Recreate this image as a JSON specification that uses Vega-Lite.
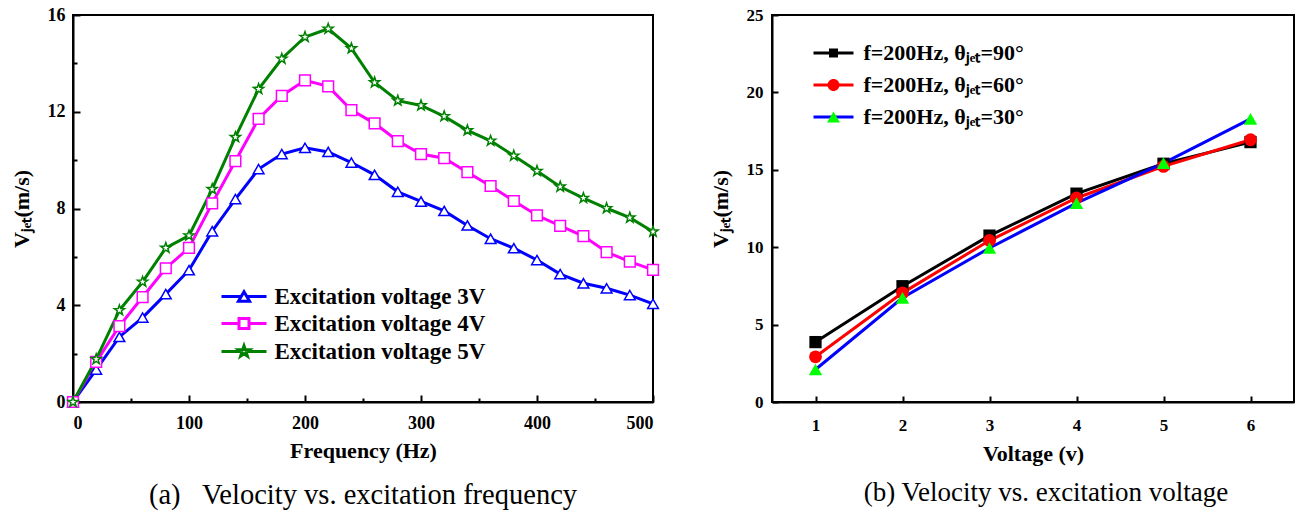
{
  "$schema": "https://vega.github.io/schema/vega-lite/v6.json",
  "autosize": {"type": "pad"},
  "padding": {"left": 9, "top": 5, "right": 0, "bottom": 0},
  "background": "white",
  "bounds": "flush",
  "spacing": 119,
  "resolve": {
    "scale": {"stroke": "independent", "fill": "independent", "shape": "independent", "size": "independent", "color": "independent"},
    "legend": {"stroke": "independent", "fill": "independent", "shape": "independent", "size": "independent", "color": "independent"}
  },
  "datasets": {
    "freq": [
      {"f": 0, "v": 0, "s": "Excitation voltage 3V"},
      {"f": 20, "v": 1.34, "s": "Excitation voltage 3V"},
      {"f": 40, "v": 2.69, "s": "Excitation voltage 3V"},
      {"f": 60, "v": 3.49, "s": "Excitation voltage 3V"},
      {"f": 80, "v": 4.46, "s": "Excitation voltage 3V"},
      {"f": 100, "v": 5.45, "s": "Excitation voltage 3V"},
      {"f": 120, "v": 7.06, "s": "Excitation voltage 3V"},
      {"f": 140, "v": 8.39, "s": "Excitation voltage 3V"},
      {"f": 160, "v": 9.63, "s": "Excitation voltage 3V"},
      {"f": 180, "v": 10.25, "s": "Excitation voltage 3V"},
      {"f": 200, "v": 10.51, "s": "Excitation voltage 3V"},
      {"f": 220, "v": 10.34, "s": "Excitation voltage 3V"},
      {"f": 240, "v": 9.9, "s": "Excitation voltage 3V"},
      {"f": 260, "v": 9.39, "s": "Excitation voltage 3V"},
      {"f": 280, "v": 8.69, "s": "Excitation voltage 3V"},
      {"f": 300, "v": 8.29, "s": "Excitation voltage 3V"},
      {"f": 320, "v": 7.9, "s": "Excitation voltage 3V"},
      {"f": 340, "v": 7.3, "s": "Excitation voltage 3V"},
      {"f": 360, "v": 6.75, "s": "Excitation voltage 3V"},
      {"f": 380, "v": 6.36, "s": "Excitation voltage 3V"},
      {"f": 400, "v": 5.87, "s": "Excitation voltage 3V"},
      {"f": 420, "v": 5.29, "s": "Excitation voltage 3V"},
      {"f": 440, "v": 4.91, "s": "Excitation voltage 3V"},
      {"f": 460, "v": 4.7, "s": "Excitation voltage 3V"},
      {"f": 480, "v": 4.42, "s": "Excitation voltage 3V"},
      {"f": 500, "v": 4.06, "s": "Excitation voltage 3V"},
      {"f": 0, "v": 0, "s": "Excitation voltage 4V"},
      {"f": 20, "v": 1.66, "s": "Excitation voltage 4V"},
      {"f": 40, "v": 3.14, "s": "Excitation voltage 4V"},
      {"f": 60, "v": 4.34, "s": "Excitation voltage 4V"},
      {"f": 80, "v": 5.53, "s": "Excitation voltage 4V"},
      {"f": 100, "v": 6.37, "s": "Excitation voltage 4V"},
      {"f": 120, "v": 8.21, "s": "Excitation voltage 4V"},
      {"f": 140, "v": 9.96, "s": "Excitation voltage 4V"},
      {"f": 160, "v": 11.71, "s": "Excitation voltage 4V"},
      {"f": 180, "v": 12.66, "s": "Excitation voltage 4V"},
      {"f": 200, "v": 13.3, "s": "Excitation voltage 4V"},
      {"f": 220, "v": 13.05, "s": "Excitation voltage 4V"},
      {"f": 240, "v": 12.07, "s": "Excitation voltage 4V"},
      {"f": 260, "v": 11.52, "s": "Excitation voltage 4V"},
      {"f": 280, "v": 10.79, "s": "Excitation voltage 4V"},
      {"f": 300, "v": 10.25, "s": "Excitation voltage 4V"},
      {"f": 320, "v": 10.08, "s": "Excitation voltage 4V"},
      {"f": 340, "v": 9.5, "s": "Excitation voltage 4V"},
      {"f": 360, "v": 8.93, "s": "Excitation voltage 4V"},
      {"f": 380, "v": 8.31, "s": "Excitation voltage 4V"},
      {"f": 400, "v": 7.72, "s": "Excitation voltage 4V"},
      {"f": 420, "v": 7.28, "s": "Excitation voltage 4V"},
      {"f": 440, "v": 6.86, "s": "Excitation voltage 4V"},
      {"f": 460, "v": 6.2, "s": "Excitation voltage 4V"},
      {"f": 480, "v": 5.8, "s": "Excitation voltage 4V"},
      {"f": 500, "v": 5.46, "s": "Excitation voltage 4V"},
      {"f": 0, "v": 0, "s": "Excitation voltage 5V"},
      {"f": 20, "v": 1.77, "s": "Excitation voltage 5V"},
      {"f": 40, "v": 3.79, "s": "Excitation voltage 5V"},
      {"f": 60, "v": 4.97, "s": "Excitation voltage 5V"},
      {"f": 80, "v": 6.37, "s": "Excitation voltage 5V"},
      {"f": 100, "v": 6.88, "s": "Excitation voltage 5V"},
      {"f": 120, "v": 8.8, "s": "Excitation voltage 5V"},
      {"f": 140, "v": 10.95, "s": "Excitation voltage 5V"},
      {"f": 160, "v": 12.94, "s": "Excitation voltage 5V"},
      {"f": 180, "v": 14.19, "s": "Excitation voltage 5V"},
      {"f": 200, "v": 15.09, "s": "Excitation voltage 5V"},
      {"f": 220, "v": 15.43, "s": "Excitation voltage 5V"},
      {"f": 240, "v": 14.62, "s": "Excitation voltage 5V"},
      {"f": 260, "v": 13.21, "s": "Excitation voltage 5V"},
      {"f": 280, "v": 12.46, "s": "Excitation voltage 5V"},
      {"f": 300, "v": 12.26, "s": "Excitation voltage 5V"},
      {"f": 320, "v": 11.81, "s": "Excitation voltage 5V"},
      {"f": 340, "v": 11.23, "s": "Excitation voltage 5V"},
      {"f": 360, "v": 10.8, "s": "Excitation voltage 5V"},
      {"f": 380, "v": 10.18, "s": "Excitation voltage 5V"},
      {"f": 400, "v": 9.55, "s": "Excitation voltage 5V"},
      {"f": 420, "v": 8.9, "s": "Excitation voltage 5V"},
      {"f": 440, "v": 8.43, "s": "Excitation voltage 5V"},
      {"f": 460, "v": 8.01, "s": "Excitation voltage 5V"},
      {"f": 480, "v": 7.62, "s": "Excitation voltage 5V"},
      {"f": 500, "v": 7.04, "s": "Excitation voltage 5V"}
    ],
    "volt": [
      {"u": 1, "v": 3.87, "s": "f=200Hz, θⱼₑₜ=90°", "k": "f=200Hz, θⱼₑₜ=90°"},
      {"u": 2, "v": 7.48, "s": "f=200Hz, θⱼₑₜ=90°", "k": "f=200Hz, θⱼₑₜ=90°"},
      {"u": 3, "v": 10.75, "s": "f=200Hz, θⱼₑₜ=90°", "k": "f=200Hz, θⱼₑₜ=90°"},
      {"u": 4, "v": 13.46, "s": "f=200Hz, θⱼₑₜ=90°", "k": "f=200Hz, θⱼₑₜ=90°"},
      {"u": 5, "v": 15.39, "s": "f=200Hz, θⱼₑₜ=90°", "k": "f=200Hz, θⱼₑₜ=90°"},
      {"u": 6, "v": 16.79, "s": "f=200Hz, θⱼₑₜ=90°", "k": "f=200Hz, θⱼₑₜ=90°"},
      {"u": 1, "v": 2.92, "s": "f=200Hz, θⱼₑₜ=60°", "k": "f=200Hz, θⱼₑₜ=60°"},
      {"u": 2, "v": 7.05, "s": "f=200Hz, θⱼₑₜ=60°", "k": "f=200Hz, θⱼₑₜ=60°"},
      {"u": 3, "v": 10.43, "s": "f=200Hz, θⱼₑₜ=60°", "k": "f=200Hz, θⱼₑₜ=60°"},
      {"u": 4, "v": 13.18, "s": "f=200Hz, θⱼₑₜ=60°", "k": "f=200Hz, θⱼₑₜ=60°"},
      {"u": 5, "v": 15.22, "s": "f=200Hz, θⱼₑₜ=60°", "k": "f=200Hz, θⱼₑₜ=60°"},
      {"u": 6, "v": 16.94, "s": "f=200Hz, θⱼₑₜ=60°", "k": "f=200Hz, θⱼₑₜ=60°"},
      {"u": 1, "v": 2.1, "s": "f=200Hz, θⱼₑₜ=30°", "k": "f=200Hz, θⱼₑₜ=30°"},
      {"u": 2, "v": 6.73, "s": "f=200Hz, θⱼₑₜ=30°", "k": "f=200Hz, θⱼₑₜ=30°"},
      {"u": 3, "v": 9.95, "s": "f=200Hz, θⱼₑₜ=30°", "k": "f=200Hz, θⱼₑₜ=30°"},
      {"u": 4, "v": 12.85, "s": "f=200Hz, θⱼₑₜ=30°", "k": "f=200Hz, θⱼₑₜ=30°"},
      {"u": 5, "v": 15.43, "s": "f=200Hz, θⱼₑₜ=30°", "k": "f=200Hz, θⱼₑₜ=30°"},
      {"u": 6, "v": 18.29, "s": "f=200Hz, θⱼₑₜ=30°", "k": "f=200Hz, θⱼₑₜ=30°"}
    ]
  },
  "config": {
    "view": {"stroke": "black", "strokeWidth": 2},
    "font": "Liberation Serif",
    "axis": {
      "grid": false,
      "domainColor": "black",
      "domainWidth": 2,
      "tickColor": "black",
      "tickWidth": 2,
      "tickSize": -6,
      "labelFont": "Liberation Serif",
      "labelFontWeight": "bold",
      "labelFontSize": 18,
      "labelColor": "black",
      "titleFont": "Liberation Serif",
      "titleFontWeight": "bold",
      "titleFontSize": 22,
      "titleColor": "black"
    },
    "legend": {
      "labelFont": "Liberation Serif",
      "labelFontWeight": "bold",
      "labelColor": "black",
      "labelLimit": 400,
      "padding": 0
    }
  },
  "hconcat": [
    {
      "width": 580,
      "height": 387,
      "data": {"name": "freq"},
      "title": {
        "text": "(a)\u00a0\u00a0\u00a0Velocity vs. excitation frequency",
        "orient": "bottom",
        "fontSize": 28.5,
        "fontWeight": "normal",
        "font": "Liberation Serif",
        "color": "black",
        "offset": 20
      },
      "layer": [
        {
          "mark": {"type": "line", "strokeWidth": 3},
          "encoding": {
            "x": {
              "field": "f", "type": "quantitative",
              "scale": {"domain": [0, 500], "nice": false},
              "axis": {
                "title": "Frequency (Hz)",
                "values": [0, 50, 100, 150, 200, 250, 300, 350, 400, 450, 500],
                "labelExpr": "datum.value % 100 === 0 ? datum.label : ''",
                "tickSize": {"condition": {"test": "datum.value % 100 === 0", "value": -7}, "value": -4},
                "labelPadding": 19,
                "titlePadding": 8
              }
            },
            "y": {
              "field": "v", "type": "quantitative",
              "scale": {"domain": [0, 16], "nice": false},
              "axis": {
                "title": "Vⱼₑₜ(m/s)",
                "values": [0, 2, 4, 6, 8, 10, 12, 14, 16],
                "labelExpr": "datum.value % 4 === 0 ? datum.label : ''",
                "tickSize": {"condition": {"test": "datum.value % 4 === 0", "value": -7}, "value": -4},
                "labelPadding": 15,
                "titlePadding": 14
              }
            },
            "stroke": {
              "field": "s", "type": "nominal",
              "scale": {
                "domain": ["Excitation voltage 3V", "Excitation voltage 4V", "Excitation voltage 5V"],
                "range": ["#0000ff", "#ff00ff", "#008000"]
              },
              "legend": {
                "orient": "none",
                "legendX": 142,
                "legendY": 270,
                "title": null,
                "symbolSize": 100,
                "symbolOffset": 17.5,
                "symbolStrokeWidth": 3,
                "labelFontSize": 23,
                "labelOffset": 19,
                "rowPadding": 3,
                "encoding": {
                  "symbols": {
                    "shape": {"value": {"expr": "datum.index === 0 ? 'M-4.5,0H-0.56M0.56,0H4.5M0,-0.97L1.12,0.97L-1.12,0.97Z' : datum.index === 1 ? 'M-4.5,0H-1M1,0H4.5M-1,-1H1V1H-1Z' : 'M-4.5,0H-0.63M0.63,0H4.5M0,-1.15L0.27,-0.373L1.094,-0.355L0.437,0.143L0.676,0.93L0,0.46L-0.676,0.93L-0.437,0.143L-1.094,-0.355L-0.27,-0.373Z'"}},
                    "fill": {"value": "white"},
                    "fillOpacity": {"value": 1}
                  }
                }
              }
            }
          }
        },
        {
          "mark": {"type": "point", "filled": false, "fill": "white", "fillOpacity": 1, "opacity": 1, "strokeWidth": 1.5, "size": 115},
          "encoding": {
            "x": {"field": "f", "type": "quantitative"},
            "y": {"field": "v", "type": "quantitative"},
            "color": {
              "field": "s", "type": "nominal", "legend": null,
              "scale": {"range": ["#0000ff", "#ff00ff", "#008000"]}
            },
            "shape": {
              "field": "s", "type": "nominal", "legend": null,
              "scale": {
                "range": ["triangle-up", "square", "M0,-1L0.235,-0.324L0.951,-0.309L0.380,0.124L0.588,0.809L0,0.4L-0.588,0.809L-0.380,0.124L-0.951,-0.309L-0.235,-0.324Z"]
              }
            }
          }
        }
      ]
    },
    {
      "width": 522,
      "height": 387,
      "data": {"name": "volt"},
      "title": {
        "text": "(b) Velocity vs. excitation voltage",
        "orient": "bottom",
        "fontSize": 27,
        "fontWeight": "normal",
        "font": "Liberation Serif",
        "color": "black",
        "offset": 16,
        "dx": 13
      },
      "layer": [
        {
          "mark": {"type": "line", "strokeWidth": 3},
          "encoding": {
            "x": {
              "field": "u", "type": "quantitative",
              "scale": {"domain": [0.5, 6.5], "nice": false},
              "axis": {
                "title": "Voltage (v)",
                "format": "d",
                "values": [1, 1.5, 2, 2.5, 3, 3.5, 4, 4.5, 5, 5.5, 6],
                "labelExpr": "datum.value % 1 === 0 ? datum.label : ''",
                "labelFontSize": 17,
                "labelPadding": 21,
                "titlePadding": 10
              }
            },
            "y": {
              "field": "v", "type": "quantitative",
              "scale": {"domain": [0, 25], "nice": false},
              "axis": {
                "title": "Vⱼₑₜ(m/s)",
                "values": [0, 2.5, 5, 7.5, 10, 12.5, 15, 17.5, 20, 22.5, 25],
                "labelExpr": "datum.value % 5 === 0 ? datum.label : ''",
                "labelFontSize": 17,
                "labelPadding": 15,
                "titlePadding": 14
              }
            },
            "stroke": {
              "field": "s", "type": "nominal",
              "scale": {
                "domain": ["f=200Hz, θⱼₑₜ=90°", "f=200Hz, θⱼₑₜ=60°", "f=200Hz, θⱼₑₜ=30°"],
                "range": ["#000000", "#ff0000", "#0000ff"]
              },
              "legend": {
                "orient": "none",
                "legendX": 33,
                "legendY": 27,
                "title": null,
                "symbolType": "M-4,0H4",
                "symbolSize": 100,
                "symbolOffset": 17.5,
                "symbolStrokeWidth": 3,
                "labelFontSize": 22,
                "labelOffset": 19,
                "rowPadding": 10
              }
            }
          }
        },
        {
          "mark": {"type": "point", "filled": true, "opacity": 1, "strokeWidth": 0},
          "encoding": {
            "x": {"field": "u", "type": "quantitative"},
            "y": {"field": "v", "type": "quantitative"},
            "fill": {
              "field": "k", "type": "nominal", "sort": "descending",
              "scale": {"range": ["#000000", "#ff0000", "#00ff00"]},
              "legend": {
                "orient": "none",
                "legendX": 33,
                "legendY": 27,
                "title": null,
                "symbolSize": 100,
                "symbolOffset": 17.5,
                "symbolStrokeWidth": 0,
                "labelFontSize": 22,
                "labelOffset": 19,
                "rowPadding": 10,
                "labelOpacity": 0,
                "encoding": {
                  "symbols": {
                    "shape": {"value": {"expr": "datum.index === 0 ? 'M-0.9,-0.9H0.9V0.9H-0.9Z' : datum.index === 1 ? 'M-1.2,0A1.2,1.2,0,1,0,1.2,0A1.2,1.2,0,1,0,-1.2,0Z' : 'M0,-1.1L1.3,1.1L-1.3,1.1Z'"}},
                    "fillOpacity": {"value": 1}
                  }
                }
              }
            },
            "shape": {
              "field": "k", "type": "nominal", "legend": null,
              "scale": {"range": ["triangle-up", "circle", "square"]}
            },
            "size": {
              "field": "k", "type": "nominal", "legend": null,
              "scale": {"range": [180, 150, 100]}
            }
          }
        }
      ]
    }
  ]
}
